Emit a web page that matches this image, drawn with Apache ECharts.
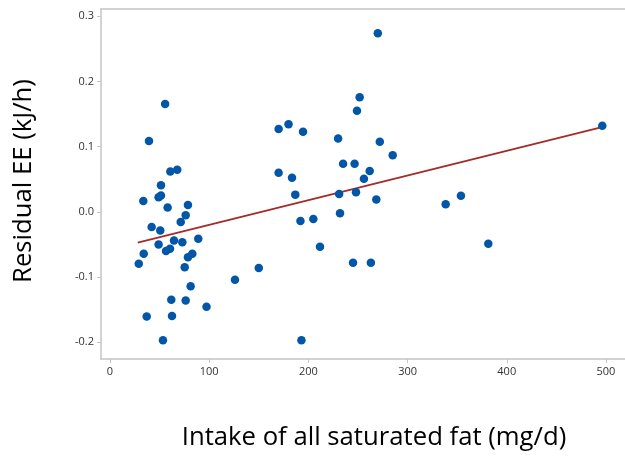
<!DOCTYPE html>
<html>
<head>
<meta charset="utf-8">
<script src="https://cdn.jsdelivr.net/npm/echarts@6/dist/echarts.min.js"></script>
<style>
html,body{margin:0;padding:0;background:#fff;}
#chart{width:625px;height:460px;}
</style>
</head>
<body>
<div id="chart"></div>
<script>
var satFat = [29, 33.6, 34, 37, 39.3, 42, 49, 51.4, 51.4, 49, 50.7, 53.4, 55.6, 56.5, 58.1, 60.5, 60.8, 61.8, 62.5, 64.5, 67.8, 71.3, 72.9, 75.3, 76.3, 76.3, 78.6, 78.6, 81.3, 83, 89, 97.3,
  126, 150, 170, 170, 180, 183.5, 186.8, 192, 193, 194.6, 205, 211.7, 230, 231, 231.9, 235, 245, 246.6, 248, 249, 251.7, 256, 261.8, 263, 268.5, 270, 272, 285,
  338.4, 353.8, 381.4, 496.3];
var residualEE = [-0.0795, 0.0168, -0.064, -0.1606, 0.1086, -0.023, 0.0223, 0.025, 0.041, -0.050, -0.0286, -0.197, 0.1656, -0.060, 0.0066, -0.0566, 0.062, -0.1346, -0.1596, -0.044, 0.0647, -0.0153, -0.0465, -0.0847, -0.005, -0.136, 0.0107, -0.0694, -0.114, -0.064, -0.041, -0.1455,
  -0.104, -0.086, 0.127, 0.060, 0.1345, 0.0525, 0.0265, -0.0138, -0.197, 0.1228, -0.011, -0.0535, 0.1126, 0.0275, -0.002, 0.074, -0.078, 0.074, 0.030, 0.155, 0.176, 0.051, 0.0627, -0.078, 0.019, 0.274, 0.1075, 0.087,
  0.0116, 0.0249, -0.049, 0.132];
var fitX = [28, 496];
var fitY = [-0.047, 0.130];
var xTitle = 'Intake of all saturated fat (mg/d)';
var yTitle = 'Residual EE (kJ/h)';

var points = satFat.map(function (x, i) { return [x, residualEE[i]]; });
var fitLine = fitX.map(function (x, i) { return [x, fitY[i]]; });

var chart = echarts.init(document.getElementById('chart'));
var axisFont = { color: '#333', fontSize: 11, fontFamily: 'Open Sans' };
var xMin = -9.07, xMax = 519.2;
chart.setOption({
  animation: false,
  backgroundColor: '#fff',
  grid: { left: 101, right: 0, top: 9, bottom: 101, containLabel: false, show: false },
  xAxis: [{
    type: 'value', min: xMin, max: xMax,
    axisLine: { show: true, onZero: false, lineStyle: { color: '#c4c4c4', width: 1.5 } },
    axisTick: { show: true, length: 4, lineStyle: { color: '#c4c4c4' } },
    splitLine: { show: false },
    axisLabel: Object.assign({ margin: 7, showMinLabel: false, showMaxLabel: false,
      formatter: function (v) { return Math.abs(v % 100) < 1e-6 ? String(v) : ''; } }, axisFont)
  }, {
    type: 'value', position: 'top', min: xMin, max: xMax,
    axisLine: { show: true, onZero: false, lineStyle: { color: '#c4c4c4', width: 1.5 } },
    axisTick: { show: false }, axisLabel: { show: false }, splitLine: { show: false }
  }],
  yAxis: {
    type: 'value', min: -0.2256, max: 0.3112,
    axisLine: { show: true, onZero: false, lineStyle: { color: '#c4c4c4', width: 1.5 } },
    axisTick: { show: true, length: 4, lineStyle: { color: '#c4c4c4' } },
    splitLine: { show: false },
    axisLabel: Object.assign({ margin: 7, showMinLabel: false, showMaxLabel: false,
      formatter: function (v) {
        var r = Math.round(v * 10) / 10;
        if (Math.abs(r - v) > 1e-6) return '';
        return r.toFixed(1);
      } }, axisFont)
  },
  graphic: [
    { type: 'text', x: 374, y: 438, style: { text: xTitle, fill: '#000', fontSize: 25.7, fontFamily: 'Open Sans', align: 'center', verticalAlign: 'middle' } },
    { type: 'text', x: 24, y: 181, rotation: Math.PI / 2, style: { text: yTitle, fill: '#000', fontSize: 25.7, fontFamily: 'Open Sans', align: 'center', verticalAlign: 'middle' } }
  ],
  series: [
    { type: 'scatter', data: points, symbol: 'circle', symbolSize: 8.5,
      itemStyle: { color: '#0156a8', opacity: 1 }, z: 3 },
    { type: 'line', data: fitLine, showSymbol: false, symbol: 'none',
      lineStyle: { color: '#a52a2a', width: 1.8 }, z: 2 }
  ]
});
</script>
</body>
</html>
